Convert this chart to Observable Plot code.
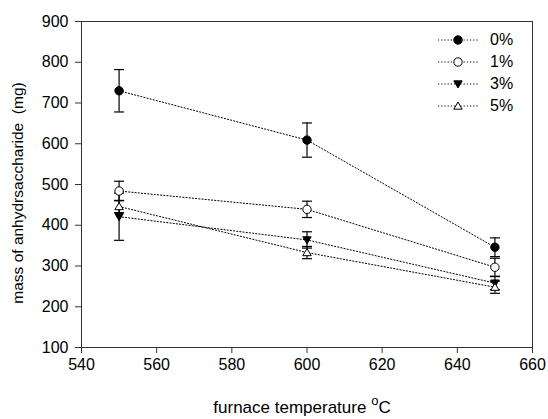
<!DOCTYPE html>
<html>
<head>
<meta charset="utf-8">
<script src="https://cdn.jsdelivr.net/npm/d3@7"></script>
<script src="https://cdn.jsdelivr.net/npm/@observablehq/plot@0.6"></script>
<style>
  html, body { margin: 0; padding: 0; background: #fff; }
  #wrap { position: relative; width: 548px; height: 419px; font-family: "Liberation Sans", Arial, sans-serif; }
  #legend { position: absolute; left: 436px; top: 29px; font-size: 16px; }
  .lrow { display: flex; align-items: center; height: 22px; }
  .lrow span { margin-left: 10px; }
</style>
</head>
<body>
<div id="wrap"></div>
<script>
const temps = [550, 600, 650];
const seriesNames = ["0%", "1%", "3%", "5%"];
const mean0 = [730, 609, 346];
const err0  = [52, 42, 23];
const mean1 = [484, 439, 297];
const err1  = [24, 20, 22];
const mean3 = [421, 364, 258];
const err3  = [58, 20, 16];
const mean5 = [446, 333, 248];
const err5  = [15, 15, 15];
const xTicks = [540, 560, 580, 600, 620, 640, 660];
const yTicks = [100, 200, 300, 400, 500, 600, 700, 800, 900];

const means = [mean0, mean1, mean3, mean5];
const errs = [err0, err1, err3, err5];

const triDown = {draw(ctx, size) { const r = Math.sqrt(size / Math.PI);
  ctx.moveTo(-r, -r * 0.75); ctx.lineTo(r, -r * 0.75); ctx.lineTo(0, r * 0.95); ctx.closePath(); }};
const triUp = {draw(ctx, size) { const r = Math.sqrt(size / Math.PI);
  ctx.moveTo(-r, r * 0.75); ctx.lineTo(r, r * 0.75); ctx.lineTo(0, -r * 0.95); ctx.closePath(); }};
const cap = {draw(ctx, size) { ctx.moveTo(-5, 0); ctx.lineTo(5, 0); }};
const circ = d3.symbolCircle;

const styles = [
  {symbol: circ, fill: "black"},
  {symbol: circ, fill: "white"},
  {symbol: triDown, fill: "black"},
  {symbol: triUp, fill: "white"}
];

const rows = [];
seriesNames.forEach((s, i) => temps.forEach((t, j) => rows.push({
  series: s, idx: i, temp: t, mean: means[i][j], lo: means[i][j] - errs[i][j], hi: means[i][j] + errs[i][j]
})));

const marks = [
  Plot.frame({stroke: "#333"}),
  Plot.axisX({ticks: xTicks, tickSize: 6, tickPadding: 5, fontSize: 16, label: null, stroke: "#333"}),
  Plot.axisY({ticks: yTicks, tickSize: 6, tickPadding: 7, fontSize: 16, label: null, stroke: "#333"}),
  Plot.ruleX(rows, {x: "temp", y1: "lo", y2: "hi", stroke: "black", strokeWidth: 1.2}),
  Plot.dot(rows, {x: "temp", y: "lo", symbol: cap, stroke: "black", strokeWidth: 1.2}),
  Plot.dot(rows, {x: "temp", y: "hi", symbol: cap, stroke: "black", strokeWidth: 1.2}),
  Plot.line(rows, {x: "temp", y: "mean", z: "series", stroke: "black", strokeWidth: 1, strokeDasharray: "1.2,2"})
];
styles.forEach((st, i) => {
  marks.push(Plot.dot(rows.filter(d => d.idx === i), {x: "temp", y: "mean", symbol: st.symbol, r: 4.2, fill: st.fill, stroke: "black", strokeWidth: 1}));
});

const chart = Plot.plot({
  width: 548, height: 419,
  marginLeft: 81, marginRight: 16, marginTop: 21, marginBottom: 72,
  style: {fontFamily: "Liberation Sans, Arial, sans-serif", color: "black", background: "white"},
  x: {domain: [540, 660]},
  y: {domain: [100, 900]},
  marks
});

const svg = d3.select(chart);
const xl = svg.append("text").attr("x", 302).attr("y", 413).attr("text-anchor", "middle")
  .attr("font-size", 17).attr("fill", "black");
xl.append("tspan").text("furnace temperature ");
xl.append("tspan").attr("font-size", 13).attr("dy", -8).text("o");
xl.append("tspan").attr("dy", 8).text("C");
svg.append("text").attr("transform", "translate(23,193) rotate(-90)").attr("text-anchor", "middle")
  .attr("font-size", 15.5).attr("fill", "black").text("mass of anhydrsaccharide  (mg)");

const wrap = document.getElementById("wrap");
wrap.appendChild(chart);

const legend = document.createElement("div");
legend.id = "legend";
seriesNames.forEach((s, i) => {
  const row = document.createElement("div");
  row.className = "lrow";
  const ns = "http://www.w3.org/2000/svg";
  const sv = document.createElementNS(ns, "svg");
  sv.setAttribute("width", 44); sv.setAttribute("height", 22);
  const ln = document.createElementNS(ns, "line");
  ln.setAttribute("x1", 2); ln.setAttribute("x2", 42); ln.setAttribute("y1", 11); ln.setAttribute("y2", 11);
  ln.setAttribute("stroke", "black"); ln.setAttribute("stroke-dasharray", "1.2,2");
  sv.appendChild(ln);
  const p = d3.path();
  styles[i].symbol.draw(p, Math.PI * 4.2 * 4.2);
  const path = document.createElementNS(ns, "path");
  path.setAttribute("d", p.toString());
  path.setAttribute("transform", "translate(22,11)");
  path.setAttribute("fill", styles[i].fill); path.setAttribute("stroke", "black");
  sv.appendChild(path);
  row.appendChild(sv);
  const t = document.createElement("span");
  t.textContent = s;
  row.appendChild(t);
  legend.appendChild(row);
});
wrap.appendChild(legend);
</script>
</body>
</html>
